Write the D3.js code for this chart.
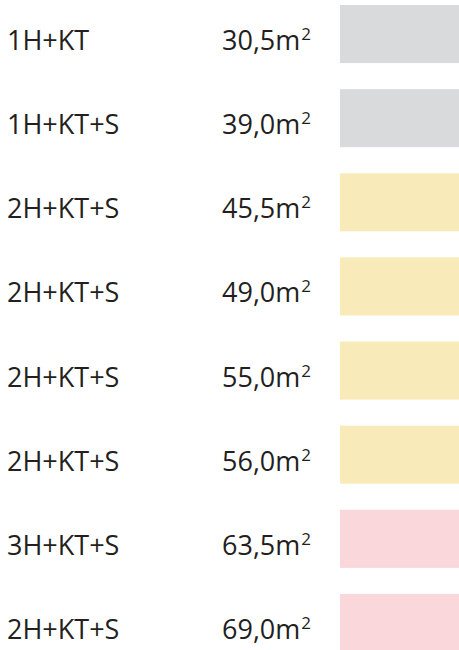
<!DOCTYPE html>
<html>
<head>
<meta charset="utf-8">
<script src="https://cdn.jsdelivr.net/npm/d3@7"></script>
<style>
  body { margin: 0; background: #fff; }
  text { font-family: "Open Sans", sans-serif; fill: #231f20; }
</style>
</head>
<body>
<div id="chart"></div>
<script>
// apartment types, floor areas (m2) and colour group of each row
var types = ["1H+KT", "1H+KT+S", "2H+KT+S", "2H+KT+S", "2H+KT+S", "2H+KT+S", "3H+KT+S", "2H+KT+S"];
var areas = [30.5, 39.0, 45.5, 49.0, 55.0, 56.0, 63.5, 69.0];
var groups = ["one", "one", "two", "two", "two", "two", "three", "three"];

var width = 459, height = 650;

var svg = d3.select("#chart")
  .append("svg")
    .attr("width", width)
    .attr("height", height);

// one band per row
var y = d3.scaleBand()
  .domain(d3.range(types.length))
  .range([5, 652])
  .paddingInner(0.31)
  .paddingOuter(0);

var color = d3.scaleOrdinal()
  .domain(["one", "two", "three"])
  .range(["#d9dadc", "#f8ebb9", "#f9d7db"]);

var fmt = function(v) { return d3.format(".1f")(v).replace(".", ","); };

var rows = svg.selectAll("g.row")
  .data(d3.range(types.length))
  .enter()
  .append("g")
    .attr("class", "row")
    .attr("transform", function(i) { return "translate(0," + y(i) + ")"; });

rows.append("rect")
  .attr("x", 340)
  .attr("y", 0)
  .attr("width", 130)
  .attr("height", y.bandwidth())
  .attr("fill", function(i) { return color(groups[i]); });

rows.append("text")
  .attr("x", 7)
  .attr("y", 45)
  .style("font-size", "27px")
  .text(function(i) { return types[i]; });

var val = rows.append("text")
  .attr("x", 222)
  .attr("y", 45)
  .style("font-size", "27px");

val.append("tspan").text(function(i) { return fmt(areas[i]) + "m"; });
val.append("tspan")
  .attr("dx", 1)
  .attr("dy", -10)
  .style("font-size", "17px")
  .text("2");
</script>
</body>
</html>
